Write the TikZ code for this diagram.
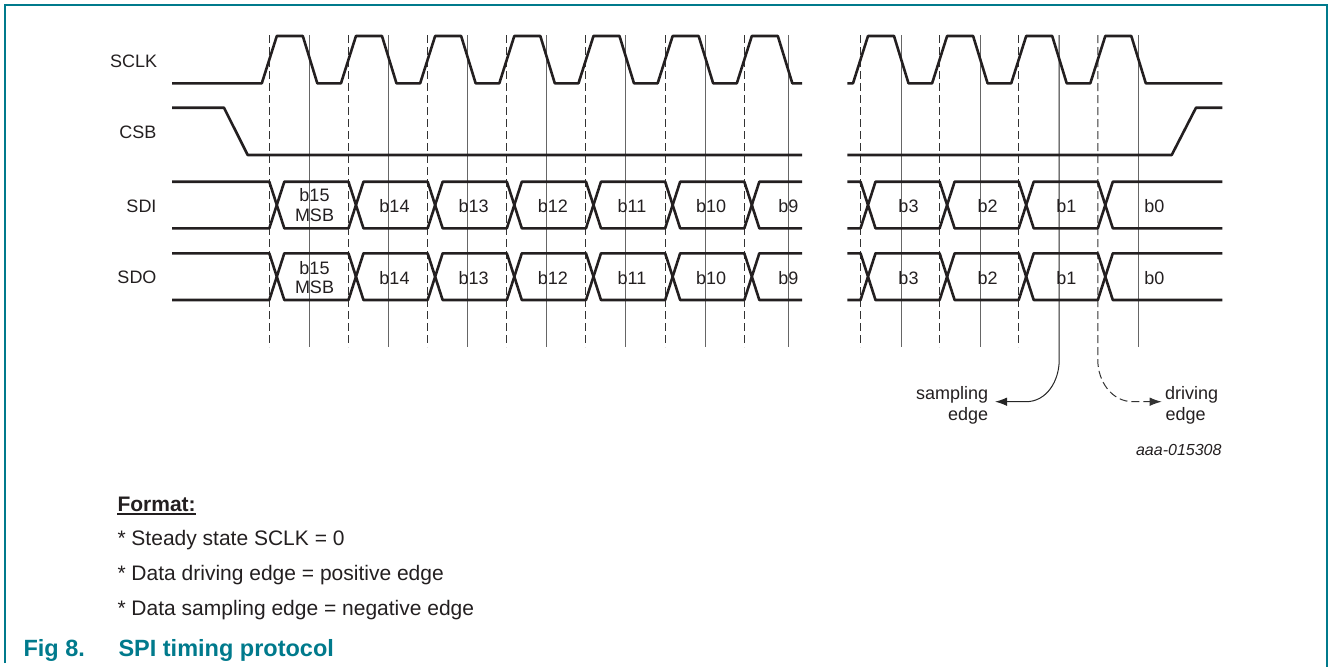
\documentclass[tikz,border=0pt]{standalone}
\usepackage{fontspec}
\setmainfont{Liberation Sans}
\usetikzlibrary{arrows.meta}
\definecolor{nxpteal}{RGB}{0,122,140}
\definecolor{ink}{RGB}{35,31,32}
\begin{document}
\begin{tikzpicture}[x=1pt,y=-1pt,
  sig/.style={line width=2.6pt, line join=round, ink},
  drvline/.style={black!80, line width=1pt, dash pattern=on 8pt off 4pt},
  smpline/.style={black!60, line width=1pt},
  lbl/.style={font=\fontsize{18}{20}\selectfont, inner sep=0pt, text=ink},
  note/.style={font=\fontsize{21}{24}\selectfont, inner sep=0pt, text=ink, anchor=base west},
  captxt/.style={font=\fontsize{23.5}{26}\selectfont\bfseries, inner sep=0pt, text=nxpteal, anchor=base west},
  tip/.style={-{Latex[length=12pt,width=8.5pt]}}]
\useasboundingbox (0,0) rectangle (1328,667);
% frame
\draw[nxpteal, line width=2pt] (5.3,663) -- (5.3,4.7) -- (1326.7,4.7) -- (1326.7,667);

% vertical reference lines, left section
\foreach \k in {0,...,6} {
  \pgfmathsetmacro\d{269.3+79.17*\k}
  \draw[drvline] (\d,35) -- (\d,347);
}
\foreach \k in {0,...,5} {
  \pgfmathsetmacro\s{309.3+79.17*\k}
  \draw[smpline] (\s,35) -- (\s,347);
}
\draw[smpline] (788,35) -- (788,347);
% right section
\foreach \d in {860.5,939.6,1018.7} { \draw[drvline] (\d,35) -- (\d,347); }
\foreach \s in {901,980,1138.3} { \draw[smpline] (\s,35) -- (\s,347); }

% annotation arrows
\coordinate (sampTip) at (995,401.7);
\coordinate (drvTip) at (1161.7,401.7);
\draw[smpline, black!85, tip] (1059.2,35) -- (1059.2,360) to[out=270,in=0] (1026,401.7) -- (sampTip);
\draw[drvline, tip] (1097.8,35) -- (1097.8,360) to[out=270,in=180] (1133,401.7) -- (drvTip);

% SCLK
\draw[sig] (172,83.3) foreach \k in {0,...,6} {
  -- ({269.3+79.17*\k-7.5},83.3) -- ({269.3+79.17*\k+7.5},36)
  -- ({269.3+79.17*\k+33.5},36) -- ({269.3+79.17*\k+48},83.3) } -- (802,83.3);
\draw[sig] (847.3,83.3) foreach \d in {860.5,939.6,1018.7,1097.8} {
  -- (\d-7.5,83.3) -- (\d+7.5,36) -- (\d+33.5,36) -- (\d+48,83.3) } -- (1222.3,83.3);

% CSB
\draw[sig] (172,107.7) -- (224,107.7) -- (247.7,155) -- (802,155);
\draw[sig] (847.3,155) -- (1171.7,155) -- (1196,107.7) -- (1222.3,107.7);

% SDI / SDO buses
\foreach \yt/\yb in {181.7/228.3, 253.3/300} {
  \pgfmathsetmacro\ym{(\yt+\yb)/2}
  \draw[sig] (172,\yt) -- (269.3,\yt) -- (276.8,\ym) -- (269.3,\yb) -- (172,\yb);
  \foreach \k in {0,...,5} {
    \pgfmathsetmacro\a{269.3+79.17*\k}
    \pgfmathsetmacro\b{\a+79.17}
    \draw[sig] (\a+7.5,\ym) -- (\a+15,\yt) -- (\b,\yt) -- (\b+7.5,\ym) -- (\b,\yb) -- (\a+15,\yb) -- cycle;
  }
  \draw[sig] (802,\yt) -- (759.32,\yt) -- (751.82,\ym) -- (759.32,\yb) -- (802,\yb);
  \draw[sig] (847.3,\yt) -- (860.5,\yt) -- (868,\ym) -- (860.5,\yb) -- (847.3,\yb);
  \foreach \a/\b in {860.5/939.6, 939.6/1018.7, 1018.7/1097.8} {
    \draw[sig] (\a+7.5,\ym) -- (\a+15,\yt) -- (\b,\yt) -- (\b+7.5,\ym) -- (\b,\yb) -- (\a+15,\yb) -- cycle;
  }
  \draw[sig] (1222.3,\yt) -- (1112.8,\yt) -- (1105.3,\ym) -- (1112.8,\yb) -- (1222.3,\yb);
}

% row labels
\node[lbl, anchor=base east] (lsclk) at (157.3,67.3) {SCLK};
\node[lbl, anchor=base east] (lcsb) at (156.7,138.3) {CSB};
\node[lbl, anchor=base east] (lsdi) at (156.7,212.7) {SDI};
\node[lbl, anchor=base east] (lsdo) at (156.7,283.3) {SDO};

% data labels
\node[lbl, anchor=base] (i15a) at (314.5,201.7) {b15};
\node[lbl, anchor=base] (i15b) at (314.5,221.7) {MSB};
\node[lbl, anchor=base] (o15a) at (314.5,274.5) {b15};
\node[lbl, anchor=base] (o15b) at (314.5,293.5) {MSB};
\foreach \x/\t [count=\i] in {394.5/b14, 473.6/b13, 552.8/b12, 632.0/b11, 711.2/b10, 788.3/b9, 908.5/b3, 987.5/b2, 1066.3/b1, 1154.3/b0} {
  \node[lbl, anchor=base] (di\i) at (\x,212.7) {\t};
  \node[lbl, anchor=base] (do\i) at (\x,284) {\t};
}

% annotation labels
\node[lbl, anchor=base east] (samp1) at (988.3,399.3) {sampling};
\node[lbl, anchor=base east] (samp2) at (988.3,420) {edge};
\node[lbl, anchor=base west] (drv1) at (1165,399.3) {driving};
\node[lbl, anchor=base west] (drv2) at (1165.5,420) {edge};
\node[font=\fontsize{16}{18}\selectfont\itshape, inner sep=0pt, text=ink, anchor=base east] (figid) at (1221.7,455) {aaa-015308};

% format notes
\node[note, font=\fontsize{21}{24}\selectfont\bfseries] (fmt) at (117.3,511.7) {Format:};
\draw[ink, line width=1.8pt] ([yshift=-2pt]fmt.base west) -- ([yshift=-2pt]fmt.base east);
\node[note] (n1) at (117.3,545) {* Steady state SCLK = 0};
\node[note] (n2) at (117.3,580) {* Data driving edge = positive edge};
\node[note] (n3) at (117.3,615) {* Data sampling edge = negative edge};

% caption
\node[captxt] (fig) at (23.3,656) {Fig 8.};
\node[captxt] (title) at (118.3,656) {SPI timing protocol};
\end{tikzpicture}
\end{document}
